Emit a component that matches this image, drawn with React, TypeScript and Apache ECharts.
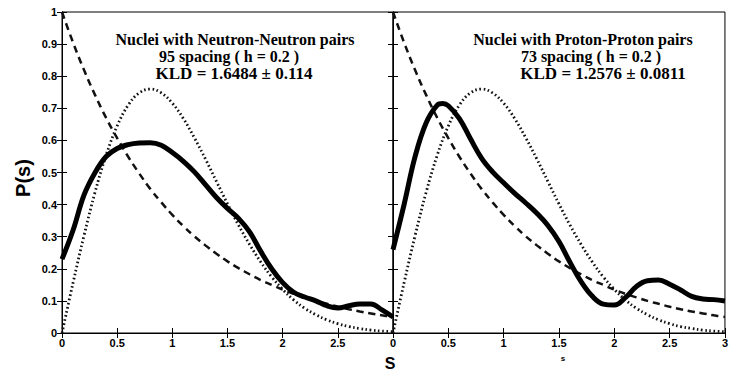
import React, { useEffect, useRef } from "react";
import * as echarts from "echarts";

const sGrid = [0, 0.1, 0.2, 0.3, 0.4, 0.5, 0.6, 0.7, 0.8, 0.9, 1.0, 1.1, 1.2, 1.3, 1.4, 1.5, 1.6, 1.7, 1.8, 1.9, 2.0, 2.1, 2.2, 2.3, 2.4, 2.5, 2.6, 2.7, 2.8, 2.9, 3.0];

// dashed reference curve (Poisson-like)
const poissonVals = [1.0, 0.905, 0.819, 0.741, 0.670, 0.607, 0.549, 0.497, 0.449, 0.407, 0.368, 0.333, 0.301, 0.273, 0.247, 0.223, 0.202, 0.183, 0.165, 0.150, 0.135, 0.122, 0.111, 0.100, 0.091, 0.082, 0.074, 0.067, 0.061, 0.055, 0.050];
// dotted reference curve (Wigner-like)
const wignerVals = [0.0, 0.156, 0.304, 0.439, 0.554, 0.645, 0.710, 0.748, 0.760, 0.748, 0.716, 0.668, 0.608, 0.542, 0.472, 0.402, 0.336, 0.276, 0.222, 0.175, 0.136, 0.103, 0.077, 0.057, 0.041, 0.029, 0.020, 0.014, 0.009, 0.006, 0.004];

// thick solid curves
const nnS = [0, 0.1, 0.2, 0.3, 0.4, 0.5, 0.6, 0.7, 0.8, 0.9, 1.0, 1.1, 1.2, 1.3, 1.4, 1.5, 1.6, 1.7, 1.8, 1.9, 2.0, 2.1, 2.2, 2.3, 2.4, 2.5, 2.6, 2.7, 2.8, 2.9, 3.0];
const nnVals = [0.23, 0.32, 0.43, 0.50, 0.55, 0.575, 0.587, 0.592, 0.593, 0.585, 0.562, 0.535, 0.502, 0.462, 0.422, 0.388, 0.357, 0.315, 0.255, 0.20, 0.157, 0.127, 0.112, 0.100, 0.085, 0.078, 0.085, 0.09, 0.09, 0.072, 0.05];
const ppS = [0, 0.1, 0.2, 0.3, 0.4, 0.45, 0.5, 0.6, 0.7, 0.8, 0.9, 1.0, 1.1, 1.2, 1.3, 1.4, 1.5, 1.6, 1.7, 1.8, 1.9, 2.0, 2.1, 2.2, 2.3, 2.4, 2.5, 2.6, 2.7, 2.8, 2.9, 3.0];
const ppVals = [0.26, 0.40, 0.55, 0.655, 0.71, 0.715, 0.708, 0.668, 0.605, 0.545, 0.502, 0.468, 0.435, 0.405, 0.373, 0.335, 0.285, 0.22, 0.16, 0.115, 0.09, 0.087, 0.11, 0.145, 0.163, 0.165, 0.152, 0.134, 0.114, 0.106, 0.104, 0.10];

const leftTitle = ["Nuclei with Neutron-Neutron pairs", "95 spacing ( h = 0.2 )", "KLD = 1.6484 ± 0.114"];
const rightTitle = ["Nuclei with Proton-Proton pairs", "73 spacing ( h = 0.2 )", "KLD = 1.2576 ± 0.0811"];

const zip = (xs: number[], ys: number[]) => xs.map((x, i) => [x, ys[i]]);

export default function App() {
  const ref = useRef<HTMLDivElement>(null);
  useEffect(() => {
    if (!ref.current) return;
    const chart = echarts.init(ref.current, null, { renderer: "svg" });
    const tickFont = { fontFamily: "Liberation Sans", fontWeight: "bold" as const, fontSize: 11, color: "#000" };
    const grids = [
      { left: 62, top: 12, width: 331, height: 321, show: true, borderColor: "#000", borderWidth: 1, backgroundColor: "#fff" },
      { left: 393, top: 12, width: 335, height: 321, show: true, borderColor: "#000", borderWidth: 1, backgroundColor: "#fff" },
    ];
    const xBase = (gi: number, pos: "bottom" | "top", labels: boolean, hideMax: boolean) => ({
      type: "value" as const,
      gridIndex: gi,
      position: pos,
      min: 0,
      max: 3,
      interval: 0.5,
      axisLine: { show: true, lineStyle: { color: "#000", width: 1 } },
      axisTick: { show: true, inside: true, length: 5, lineStyle: { color: "#000" } },
      axisLabel: { show: labels, ...tickFont, margin: 4, showMaxLabel: !hideMax },
      splitLine: { show: false },
    });
    const yBase = (gi: number, pos: "left" | "right", labels: boolean) => ({
      type: "value" as const,
      gridIndex: gi,
      position: pos,
      min: 0,
      max: 1,
      interval: 0.1,
      axisLine: { show: true, lineStyle: { color: "#000", width: 1 } },
      axisTick: { show: true, inside: true, length: 5, lineStyle: { color: "#000" } },
      axisLabel: { show: labels, ...tickFont, margin: 5 },
      splitLine: { show: false },
    });
    const mk = (name: string, data: number[][], xi: number, yi: number, style: any) => ({
      name,
      type: "line" as const,
      xAxisIndex: xi,
      yAxisIndex: yi,
      data,
      smooth: 0.4,
      showSymbol: false,
      symbol: "none",
      lineStyle: style,
      z: 3,
    });
    const dashed = { color: "#111", width: 2.5, type: [7, 5] };
    const dotted = { color: "#111", width: 2.8, type: [1.6, 2.6] };
    const solid = { color: "#000", width: 5, type: "solid" };
    const lineSizes = [16, 16, 17];
    const lineYs = [39, 56.5, 73.5];
    const titleText = (lines: string[], cxs: number[]) =>
      lines.map((t, i) => ({
        type: "text" as const,
        x: cxs[i],
        y: lineYs[i],
        style: {
          text: t,
          fill: "#000",
          font: `bold ${lineSizes[i]}px 'Liberation Serif'`,
          align: "center",
          verticalAlign: "middle",
        },
        z: 10,
      }));
    chart.setOption({
      animation: false,
      backgroundColor: "#fff",
      grid: grids,
      xAxis: [xBase(0, "bottom", true, true), xBase(1, "bottom", true, false), xBase(0, "top", false, false), xBase(1, "top", false, false)],
      yAxis: [yBase(0, "left", true), yBase(1, "left", false), yBase(0, "right", false), yBase(1, "right", false)],
      series: [
        mk("Poisson NN", zip(sGrid, poissonVals), 0, 0, dashed),
        mk("Wigner NN", zip(sGrid, wignerVals), 0, 0, dotted),
        mk("Neutron-Neutron", zip(nnS, nnVals), 0, 0, solid),
        mk("Poisson PP", zip(sGrid, poissonVals), 1, 1, dashed),
        mk("Wigner PP", zip(sGrid, wignerVals), 1, 1, dotted),
        mk("Proton-Proton", zip(ppS, ppVals), 1, 1, solid),
      ],
      graphic: [
        ...titleText(leftTitle, [235, 229, 234]),
        ...titleText(rightTitle, [583, 591, 603]),
        {
          type: "text",
          x: 23,
          y: 178,
          rotation: Math.PI / 2,
          style: { text: "P(s)", fill: "#000", font: "bold 20px 'Liberation Sans'", align: "center", verticalAlign: "middle" },
        },
        {
          type: "text",
          x: 390,
          y: 363,
          style: { text: "S", fill: "#000", font: "bold 16px 'Liberation Sans'", align: "center", verticalAlign: "middle" },
        },
        {
          type: "text",
          x: 563,
          y: 358,
          style: { text: "s", fill: "#000", font: "bold 8px 'Liberation Sans'", align: "center", verticalAlign: "middle" },
        },
      ],
    });
    return () => chart.dispose();
  }, []);
  return <div ref={ref} style={{ position: "fixed", left: 0, top: 0, width: 731, height: 377, background: "#fff" }} />;
}
